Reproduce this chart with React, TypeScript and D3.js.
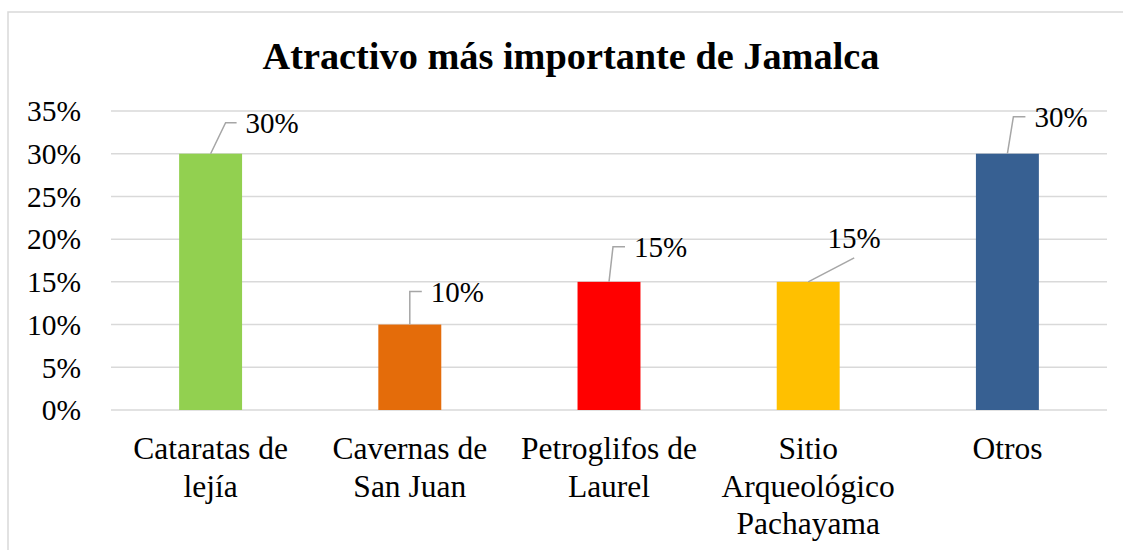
import React from 'react';
import * as d3 from 'd3';

const categories = [
  'Cataratas de lejía',
  'Cavernas de San Juan',
  'Petroglifos de Laurel',
  'Sitio Arqueológico Pachayama',
  'Otros',
];
const categoryLines = [
  ['Cataratas de', 'lejía'],
  ['Cavernas de', 'San Juan'],
  ['Petroglifos de', 'Laurel'],
  ['Sitio', 'Arqueológico', 'Pachayama'],
  ['Otros'],
];
const values = [0.3, 0.1, 0.15, 0.15, 0.3];
const barColors = ['#92d050', '#e46c0a', '#ff0000', '#ffc000', '#376092'];
const yTicks = [0, 0.05, 0.1, 0.15, 0.2, 0.25, 0.3, 0.35];

// leader line offsets from bar top centre: elbow dx, dy, horizontal tail
const leaders = [
  { dx: 15, dy: -31, tail: 11 },
  { dx: 0, dy: -33, tail: 12 },
  { dx: 4, dy: -35, tail: 12 },
  { dx: 46, dy: -24, tail: 0 },
  { dx: 6, dy: -37, tail: 12 },
];

const W = 1123;
const H = 550;
const margin = { left: 111, right: 16, top: 111, bottom: 140 };

const App = () => {
  const x = d3.scaleBand<string>()
    .domain(categories)
    .range([margin.left, W - margin.right])
    .paddingInner(0.684)
    .paddingOuter(0.342);

  const y = d3.scaleLinear()
    .domain([0, 0.35])
    .range([H - margin.bottom, margin.top]);

  const fmt = d3.format('.0%');
  const font = '"Liberation Serif", "Times New Roman", serif';

  return (
    <svg width={W} height={H} style={{ position: 'absolute', left: 0, top: 0, background: '#fff' }} fontFamily={font}>
      <rect x={8} y={12} width={1140} height={560} fill="#fff" stroke="#d9d9d9" strokeWidth={1.5} />
      <text x={571} y={69} textAnchor="middle" fontSize={38.3} fontWeight="bold" fill="#000">
        Atractivo más importante de Jamalca
      </text>

      {yTicks.map(t => (
        <g key={t}>
          <line x1={margin.left} x2={W - margin.right} y1={y(t)} y2={y(t)} stroke="#d9d9d9" strokeWidth={1.5} />
          <text x={81} y={y(t)} dy="0.35em" textAnchor="end" fontSize={29.5} fill="#000">{fmt(t)}</text>
        </g>
      ))}

      {categories.map((c, i) => (
        <rect key={c} x={x(c)} y={y(values[i])} width={x.bandwidth()} height={y(0) - y(values[i])} fill={barColors[i]} />
      ))}

      {categories.map((c, i) => {
        const cx = (x(c) as number) + x.bandwidth() / 2;
        const cy = y(values[i]);
        const l = leaders[i];
        const ex = cx + l.dx;
        const ey = cy + l.dy;
        const path = d3.path();
        path.moveTo(cx, cy);
        path.lineTo(ex, ey);
        if (l.tail) path.lineTo(ex + l.tail, ey);
        return (
          <g key={c}>
            <path d={path.toString()} fill="none" stroke="#a6a6a6" strokeWidth={1.5} />
            {l.tail ? (
              <text x={ex + l.tail + 9} y={ey} dy="0.35em" fontSize={29} fill="#000">{fmt(values[i])}</text>
            ) : (
              <text x={ex} y={ey - 10} textAnchor="middle" fontSize={29} fill="#000">{fmt(values[i])}</text>
            )}
          </g>
        );
      })}

      {categories.map((c, i) => (
        <text key={c} textAnchor="middle" fontSize={31.5} fill="#000">
          {categoryLines[i].map((line, j) => (
            <tspan key={j} x={(x(c) as number) + x.bandwidth() / 2} y={459 + j * 37.5}>{line}</tspan>
          ))}
        </text>
      ))}
    </svg>
  );
};

export default App;
